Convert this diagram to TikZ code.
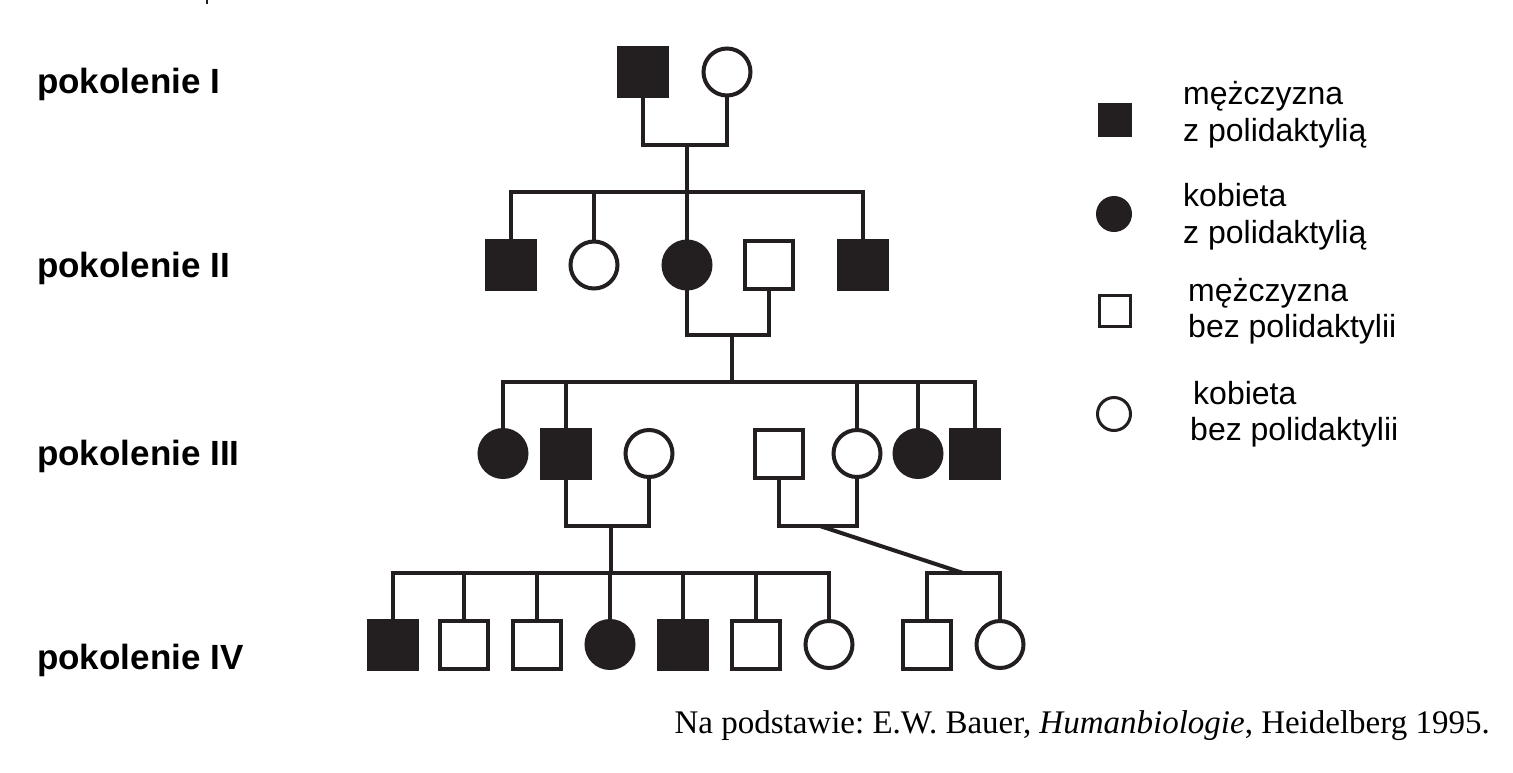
\documentclass[tikz,border=0pt]{standalone}
\usepackage{fontspec}
\setmainfont{Liberation Serif}
\setsansfont{Liberation Sans}
\definecolor{ink}{RGB}{35,31,32}
\begin{document}
\begin{tikzpicture}[x=1pt,y=-1pt,
  base/.style={draw=ink, line width=4pt, inner sep=0pt, outer sep=0pt},
  msq/.style={base, rectangle, minimum size=48pt},
  fsq/.style={msq, fill=ink},
  osq/.style={msq, fill=white},
  fem/.style={base, circle, minimum size=47pt},
  fcirc/.style={fem, fill=ink},
  ocirc/.style={fem, fill=white},
  lbase/.style={draw=ink, line width=3pt, inner sep=0pt, outer sep=0pt},
  lfsq/.style={lbase, rectangle, minimum size=31pt, fill=ink},
  losq/.style={lbase, rectangle, minimum size=31pt, fill=white},
  lfc/.style={lbase, circle, minimum size=33pt, fill=ink},
  loc/.style={lbase, circle, minimum size=33pt, fill=white},
  ln/.style={draw=ink, line width=4pt},
  gen/.style={anchor=base west, inner sep=0pt, font=\sffamily\bfseries\fontsize{35}{40}\selectfont},
  leg/.style={anchor=base west, font=\sffamily\fontsize{32}{37}\selectfont, inner sep=0pt}]
\useasboundingbox (0,0) rectangle (1513,772);
\fill[white] (0,0) rectangle (1513,772);
\draw[ink, line width=1.5pt] (207,0) -- (207,4);

% generation labels
\node[gen] (g1) at (37,93) {pokolenie I};
\node[gen] (g2) at (37,277) {pokolenie II};
\node[gen] (g3) at (37,465) {pokolenie III};
\node[gen] (g4) at (37,669) {pokolenie IV};

% generation I
\node[fsq] (I1) at (643,72) {};
\node[ocirc] (I2) at (727,72) {};

% generation II
\node[fsq] (II1) at (511,265) {};
\node[ocirc] (II2) at (594,265) {};
\node[fcirc] (II3) at (687,265) {};
\node[osq] (II4) at (769,265) {};
\node[fsq] (II5) at (863,265) {};

% generation III
\node[fcirc] (III1) at (503,453.5) {};
\node[fsq] (III2) at (566,453.5) {};
\node[ocirc] (III3) at (649,453.5) {};
\node[osq] (III4) at (779,453.5) {};
\node[ocirc] (III5) at (857,453.5) {};
\node[fcirc] (III6) at (918,453.5) {};
\node[fsq] (III7) at (975,453.5) {};

% generation IV
\node[fsq] (IV1) at (393,644.5) {};
\node[osq] (IV2) at (464,644.5) {};
\node[osq] (IV3) at (537,644.5) {};
\node[fcirc] (IV4) at (610,644.5) {};
\node[fsq] (IV5) at (683,644.5) {};
\node[osq] (IV6) at (756,644.5) {};
\node[ocirc] (IV7) at (829,644.5) {};
\node[osq] (IV8) at (927,644.5) {};
\node[ocirc] (IV9) at (1000,644.5) {};

% junction coordinates
\coordinate (m1) at (687,145);
\coordinate (s1) at (687,192);
\coordinate (m2) at (732,335);
\coordinate (s2) at (732,382);
\coordinate (m3a) at (611,526);
\coordinate (s3a) at (611,573);
\coordinate (m3b) at (820,526);
\coordinate (s3b) at (963,573);

% I
\draw[ln] (I1.south) -- (I1.south |- m1) -- (I2.south |- m1) -- (I2.south);
\draw[ln] (m1) -- (s1);
\draw[ln] (II1.north) -- (II1.north |- s1) -- (II5.north |- s1) -- (II5.north);
\draw[ln] (II2.north |- s1) -- (II2.north);
\draw[ln] (II3.north |- s1) -- (II3.north);

% II
\draw[ln] (II3.south) -- (II3.south |- m2) -- (II4.south |- m2) -- (II4.south);
\draw[ln] (m2) -- (s2);
\draw[ln] (III1.north) -- (III1.north |- s2) -- (III7.north |- s2) -- (III7.north);
\draw[ln] (III2.north |- s2) -- (III2.north);
\draw[ln] (III5.north |- s2) -- (III5.north);
\draw[ln] (III6.north |- s2) -- (III6.north);

% III a
\draw[ln] (III2.south) -- (III2.south |- m3a) -- (III3.south |- m3a) -- (III3.south);
\draw[ln] (m3a) -- (s3a);
\draw[ln] (IV1.north) -- (IV1.north |- s3a) -- (IV7.north |- s3a) -- (IV7.north);
\foreach \n in {IV2,IV3,IV4,IV5,IV6} \draw[ln] (\n.north |- s3a) -- (\n.north);

% III b
\draw[ln] (III4.south) -- (III4.south |- m3b) -- (III5.south |- m3b) -- (III5.south);
\draw[ln] (m3b) -- (s3b);
\draw[ln] (IV8.north) -- (IV8.north |- s3b) -- (IV9.north |- s3b) -- (IV9.north);

% legend
\node[lfsq] (L1) at (1115,120) {};
\node[lfc] (L2) at (1114,214) {};
\node[losq] (L3) at (1115,311) {};
\node[loc] (L4) at (1114,414) {};
\node[leg] (t1a) at (1183,104) {mężczyzna};
\node[leg] (t1b) at (1183,141) {z polidaktylią};
\node[leg] (t2a) at (1183,206) {kobieta};
\node[leg] (t2b) at (1183,243) {z polidaktylią};
\node[leg] (t3a) at (1188,301) {mężczyzna};
\node[leg] (t3b) at (1188,337) {bez polidaktylii};
\node[leg] (t4a) at (1193,404) {kobieta};
\node[leg] (t4b) at (1190,440) {bez polidaktylii};

% source
\node[anchor=base east, inner sep=0pt, font=\frenchspacing\fontsize{33}{38}\selectfont] (src) at (1490,733) {Na podstawie: E.W. Bauer, \textit{Humanbiologie}, Heidelberg 1995.};
\end{tikzpicture}
\end{document}
